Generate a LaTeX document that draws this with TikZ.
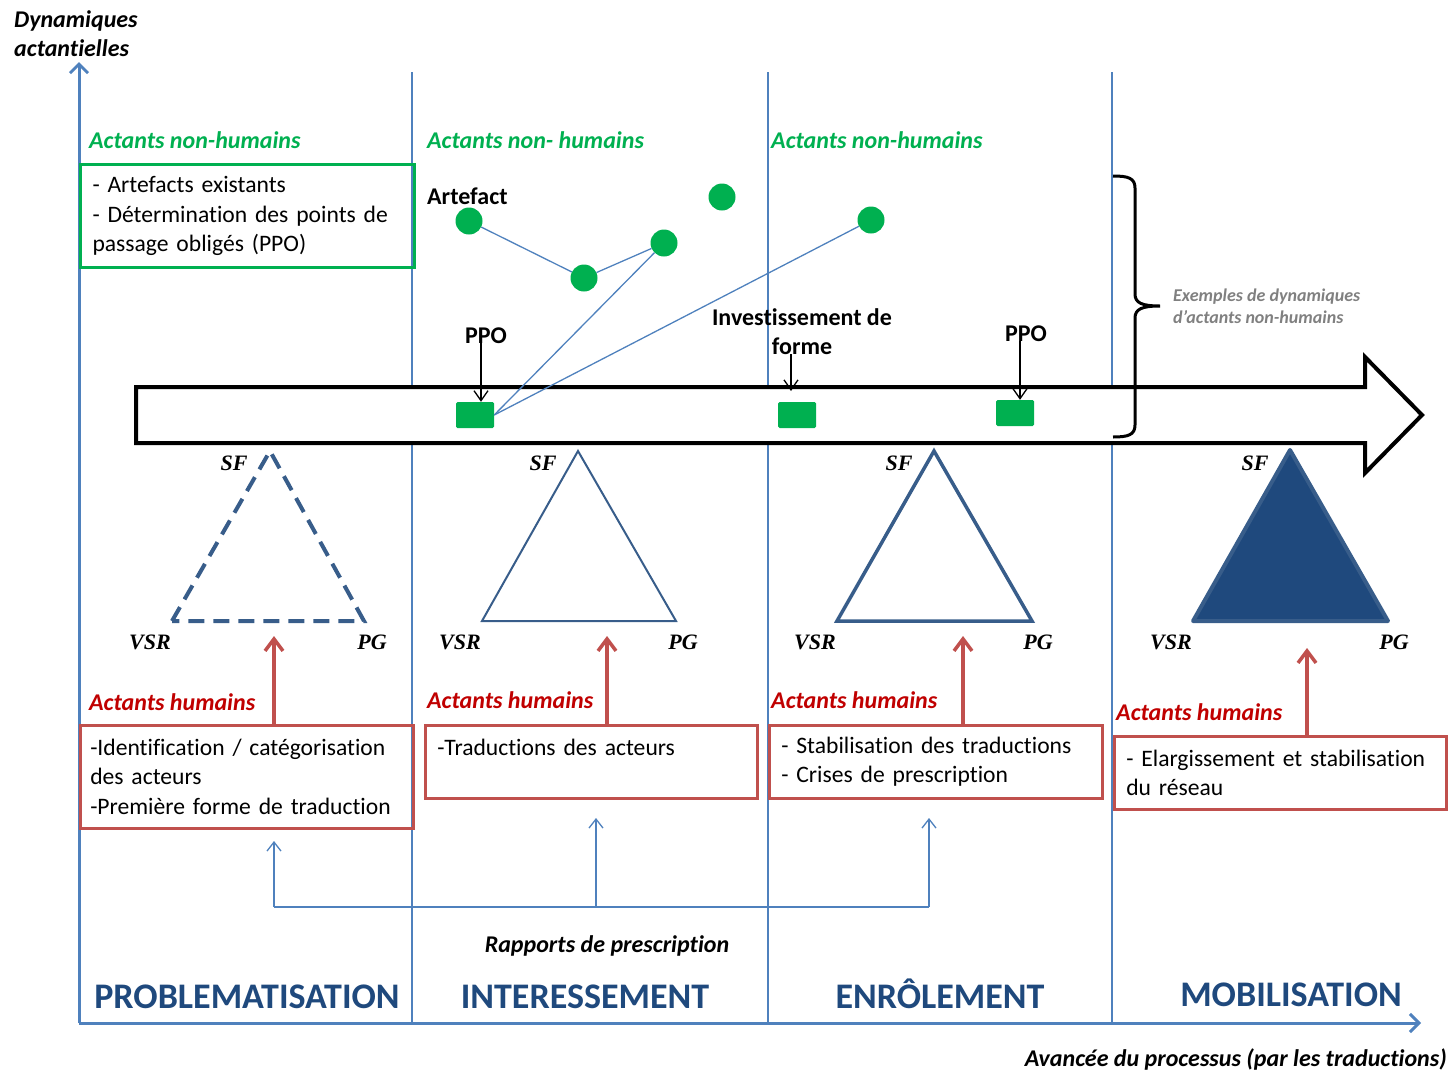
\documentclass[tikz,border=0pt]{standalone}
\usepackage{fontspec}
\setmainfont{Carlito}[Ligatures=NoCommon, RawFeature={-calt;-clig;-dlig}]
\newfontfamily\tnr{Liberation Serif}
\usetikzlibrary{arrows.meta}
\definecolor{axisblue}{RGB}{79,129,189}
\definecolor{grn}{RGB}{0,176,80}
\definecolor{triblue}{RGB}{56,93,138}
\definecolor{darkblue}{RGB}{31,73,125}
\definecolor{redbox}{RGB}{192,80,77}
\definecolor{redtxt}{RGB}{192,0,0}
\definecolor{graytxt}{RGB}{128,128,128}
\tikzset{
  ghead/.style={text=grn, font=\fontsize{24}{29}\selectfont\bfseries\itshape, anchor=base west, inner sep=0pt},
  rhead/.style={ghead, text=redtxt},
  lbl/.style={font=\fontsize{24}{29}\selectfont\bfseries, inner sep=0pt, anchor=base},
  italbl/.style={font=\fontsize{24}{29}\selectfont\bfseries\itshape, inner sep=0pt},
  gbox/.style={draw=grn, line width=3pt, anchor=north west, inner xsep=12pt, inner ysep=0pt, align=left, font=\fontsize{23.6}{29.3}\selectfont},
  rbox/.style={gbox, draw=redbox, line width=2.5pt},
  vlabel/.style={font=\tnr\fontsize{22}{22}\selectfont\bfseries\itshape, inner sep=0pt, anchor=base},
  gdot/.style={circle, fill=grn, minimum size=27pt, inner sep=0pt},
  sq/.style={fill=grn, minimum width=38pt, minimum height=26pt, inner sep=0pt, rounded corners=1.5pt},
  link/.style={draw=axisblue, line width=1.3pt},
  ptr/.style={draw=black, line width=1.3pt, -{Straight Barb[length=10pt,width=14pt]}},
  redarr/.style={draw=redbox, line width=3.5pt, -{Straight Barb[length=12pt,width=18pt]}},
  presc/.style={link, -{Straight Barb[length=9pt,width=14pt]}},
  axisline/.style={draw=axisblue, line width=3pt, -{Straight Barb[length=9pt,width=18pt]}},
  divider/.style={draw=axisblue, line width=1.3pt},
  phasetitle/.style={text=darkblue, font=\fontsize{36}{36}\selectfont\bfseries, inner sep=0pt, anchor=base},
  exlbl/.style={font=\fontsize{18}{22}\selectfont\bfseries\itshape, text=graytxt, anchor=base west, inner sep=0pt}
}
\begin{document}
\begin{tikzpicture}[x=1pt,y=-1pt]
\useasboundingbox (0,0) rectangle (1451,1071);

% dividers
\draw[divider] (412,72) -- (412,1023);
\draw[divider] (768,72) -- (768,1023);
\draw[divider] (1112,72) -- (1112,1023);

% axes
\coordinate (O) at (79,1023);
\coordinate (ytop) at (79,62);
\coordinate (xend) at (1421,1023);
\draw[axisline] (O) -- (ytop);
\draw[axisline] (O) -- (xend);

% big arrow
\draw[line width=4pt, fill=white, line join=miter] (136,387) -- (1365,387) -- (1365,357) -- (1422,415) -- (1365,473) -- (1365,443) -- (136,443) -- cycle;

% brace
\draw[line width=3pt] (1113,176) .. controls (1128,176) and (1135,178) .. (1135,188) -- (1135,294) .. controls (1135,303) and (1142,306) .. (1160,306) .. controls (1142,306) and (1135,309) .. (1135,318) -- (1135,425) .. controls (1135,435) and (1128,437) .. (1113,437);
\node[exlbl] (ex1) at (1173,301) {Exemples de dynamiques};
\node[exlbl] (ex2) at (1173,323) {d’actants non-humains};

% axis labels
\node[italbl, anchor=base west] (ylab1) at (14,27) {Dynamiques};
\node[italbl, anchor=base west] (ylab2) at (14,56) {actantielles};
\node[italbl, anchor=base east] (xlab) at (1447,1066) {Avancée du processus (par les traductions)};

% non-human headers
\node[ghead] (gh1) at (89,148) {Actants non-humains};
\node[ghead] (gh2) at (427,148) {Actants non- humains};
\node[ghead] (gh3) at (771,148) {Actants non-humains};

\node[gbox, minimum width=334pt, minimum height=103pt, text width=310pt] (g1) at (79,163)
  {- Artefacts existants\\- Détermination des points de\\passage obligés (PPO)};

% artefacts
\node[lbl, anchor=base west] (art) at (427,204) {Artefact};
\node[gdot] (c1) at (469,221) {};
\node[gdot] (c2) at (584,278) {};
\node[gdot] (c3) at (664,243) {};
\node[gdot] (c4) at (722,197) {};
\node[gdot] (c5) at (871,220) {};
\node[sq] (s1) at (475,415) {};
\node[sq] (s2) at (797,415) {};
\node[sq] (s3) at (1015,413) {};
\draw[link] (c1) -- (c2);
\draw[link] (c2) -- (c3);
\draw[link] (c3) -- (s1.east);
\draw[link] (c5) -- (s1.east);

\node[lbl] (ppo1) at (486,343) {PPO};
\node[lbl] (inv1) at (802,325) {Investissement de};
\node[lbl] (inv2) at (802,354) {forme};
\node[lbl] (ppo2) at (1026,341) {PPO};
\coordinate (invtip) at (791,391);
\draw[ptr] ([xshift=-5pt]ppo1.south) -- ([xshift=6pt]s1.north);
\draw[ptr] (invtip |- inv2.south) -- (invtip);
\draw[ptr] ([xshift=-6pt]ppo2.south) -- ([xshift=5pt]s3.north);

% triangles
\coordinate (t1a) at (270,451); \coordinate (t1l) at (172,621); \coordinate (t1r) at (364,621);
\coordinate (t2a) at (578,451); \coordinate (t2l) at (482,621); \coordinate (t2r) at (676,621);
\coordinate (t3a) at (934,451); \coordinate (t3l) at (837,621); \coordinate (t3r) at (1032,621);
\coordinate (t4a) at (1290,450); \coordinate (t4l) at (1193,621); \coordinate (t4r) at (1388,621);
\draw[triblue, line width=4pt, dash pattern=on 16pt off 9pt] (t1l) -- (t1a) -- (t1r) -- (t1l);
\draw[triblue, line width=2pt, line join=miter] (t2a) -- (t2r) -- (t2l) -- cycle;
\draw[triblue, line width=3.5pt, line join=miter] (t3a) -- (t3r) -- (t3l) -- cycle;
\draw[triblue, fill=darkblue, line width=4pt, line join=round] (t4a) -- (t4r) -- (t4l) -- cycle;

\node[vlabel] (sf1) at (234,470) {SF};
\node[vlabel] (sf2) at (543,470) {SF};
\node[vlabel] (sf3) at (899,470) {SF};
\node[vlabel] (sf4) at (1255,470) {SF};
\node[vlabel] (vsr1) at (150,649) {VSR};
\node[vlabel] (vsr2) at (460,649) {VSR};
\node[vlabel] (vsr3) at (815,649) {VSR};
\node[vlabel] (vsr4) at (1171,649) {VSR};
\node[vlabel] (pg1) at (372,649) {PG};
\node[vlabel] (pg2) at (683,649) {PG};
\node[vlabel] (pg3) at (1038,649) {PG};
\node[vlabel] (pg4) at (1394,649) {PG};

% human actants
\node[rhead] (rh1) at (89,710) {Actants humains};
\node[rhead] (rh2) at (427,708) {Actants humains};
\node[rhead] (rh3) at (771,708) {Actants humains};
\node[rhead] (rh4) at (1116,720) {Actants humains};

\node[rbox, inner xsep=10pt, minimum height=103pt, text width=313pt] (rb1) at (79,724)
  {-Identification / catégorisation\\des acteurs\\-Première forme de traduction};
\node[rbox, minimum height=73pt, text width=308pt] (rb2) at (424,724)
  {-Traductions des acteurs\\\mbox{}};
\node[rbox, minimum height=73pt, text width=309pt] (rb3) at (768,724)
  {- Stabilisation des traductions\\- Crises de prescription};
\node[rbox, minimum height=73pt, text width=308pt] (rb4) at (1113,735)
  {- Elargissement et stabilisation\\du réseau};

\coordinate (ra1) at (274,636);
\coordinate (ra2) at (607,636);
\coordinate (ra3) at (963,636);
\coordinate (ra4) at (1307,648);
\draw[redarr] (ra1 |- rb1.north) -- (ra1);
\draw[redarr] (ra2 |- rb2.north) -- (ra2);
\draw[redarr] (ra3 |- rb3.north) -- (ra3);
\draw[redarr] (ra4 |- rb4.north) -- (ra4);

% prescription
\coordinate (p1) at (274,907);
\coordinate (p2) at (596,907);
\coordinate (p3) at (929,907);
\coordinate (q1) at (274,841);
\coordinate (q2) at (596,818);
\coordinate (q3) at (929,818);
\draw[link] (p1) -- (p3);
\draw[presc] (p1) -- (q1);
\draw[presc] (p2) -- (q2);
\draw[presc] (p3) -- (q3);
\node[italbl, anchor=base] (rap) at (607,952) {Rapports de prescription};

% phases
\node[phasetitle] (ph1) at (247,1008) {PROBLEMATISATION};
\node[phasetitle] (ph2) at (585,1008) {INTERESSEMENT};
\node[phasetitle] (ph3) at (940,1008) {ENRÔLEMENT};
\node[phasetitle] (ph4) at (1291,1006) {MOBILISATION};
\end{tikzpicture}
\end{document}
